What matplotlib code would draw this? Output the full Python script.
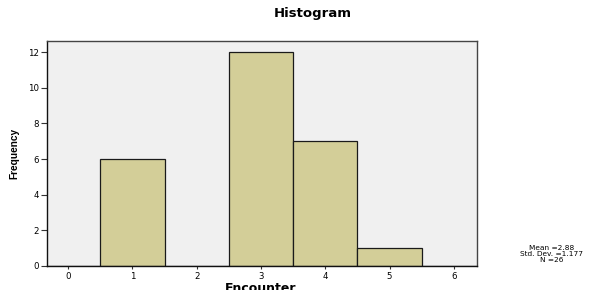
import matplotlib
matplotlib.use("Agg")
import matplotlib.pyplot as plt

# histogram data (bin centres and counts)
values = [0, 1, 2, 3, 4, 5, 6]
counts = [0, 6, 0, 12, 7, 1, 0]
yticks = [0, 2, 4, 6, 8, 10, 12]
stats = ["Mean =2.88", "Std. Dev. =1.177", "N =26"]

plt.rcParams['font.family'] = ['DejaVu Sans']

fig = plt.figure(figsize=(5.97, 2.90), dpi=100)
ax = fig.add_axes([0.0787, 0.0828, 0.7203, 0.7759])
ax.set_facecolor("#f0f0f0")

ax.bar(values, counts, width=1.0, color="#d3ce98", edgecolor="#1a1a1a", linewidth=0.9)

ax.set_xlim(-0.33, 6.36)
ax.set_ylim(0, 12.62)
ax.set_xticks(values)
ax.set_yticks(yticks)
ax.tick_params(axis="both", labelsize=6.2, length=4, width=0.8, color="#333333", pad=2)
ax.tick_params(axis="x", length=2.5, pad=1.5)
for s in ax.spines.values():
    s.set_color("#444444")
    s.set_linewidth(1.0)
ax.spines["left"].set_color("#111111")
ax.spines["bottom"].set_color("#111111")

# x label sits at the very bottom edge, partly clipped as in the original export
fig.text(0.437, 1 - 281.5 / 290, "Encounter", ha="center", va="top", fontsize=9, fontweight="bold")
fig.text(0.524, 1 - 14 / 290, "Histogram", ha="center", va="center", fontsize=9.5, fontweight="bold")
fig.text(0.024, 1 - 153.5 / 290, "Frequency", ha="center", va="center", rotation=90, fontsize=7.3,
         fontweight="bold", family=['Liberation Sans Narrow', 'Liberation Sans', 'DejaVu Sans'])

for i, line in enumerate(stats):
    fig.text(552 / 597, 1 - (247.5 + 6 * i) / 290, line, ha="center", va="center", fontsize=5.3)

fig.savefig("out.png", dpi=100)
